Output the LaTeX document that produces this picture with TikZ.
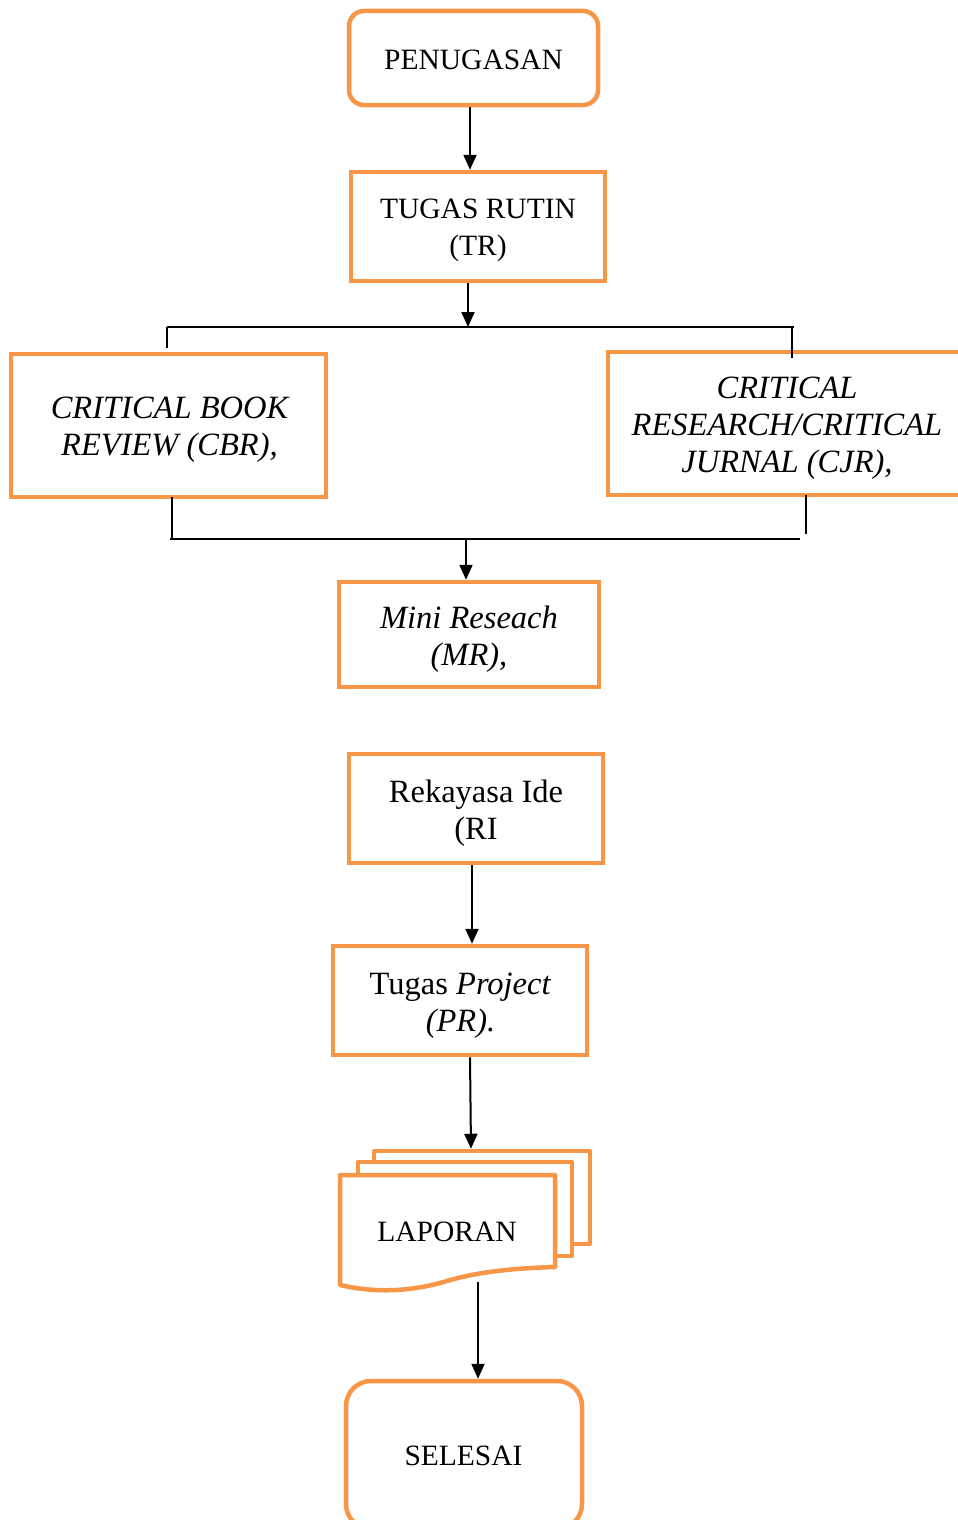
\documentclass[tikz,border=0pt]{standalone}
\usepackage{fontspec}
\setmainfont{Liberation Serif}
\usetikzlibrary{arrows.meta,calc}
\definecolor{org}{HTML}{F79646}
\begin{document}
\begin{tikzpicture}[x=1pt,y=-1pt,
  box/.style={draw=org, line width=4.5pt, fill=white, inner sep=0pt},
  rbox/.style={box, rounded corners=15pt},
  txt/.style={align=center, inner sep=0pt, font=\fontsize{29.5}{37}\selectfont},
  btxt/.style={align=center, inner sep=0pt, font=\fontsize{32.5}{37}\selectfont},
  sheet/.style={draw=org, line width=4.5pt, fill=white, line join=round},
  conn/.style={line width=2pt},
  arr/.style={conn, -{Triangle[length=15pt,width=13pt]}}]
\useasboundingbox (0,0) rectangle (958,1520);
\clip (0,0) rectangle (958,1520);

% boxes
\node[rbox, minimum width=249pt, minimum height=94pt] (pen) at (473.5,58) {};
\node[txt] (pent) at (473.5,60) {PENUGASAN};
\node[box, minimum width=254pt, minimum height=109pt] (tr) at (478,226.5) {};
\node[txt] (trt) at (478,230.5) {TUGAS RUTIN\\(TR)};
\node[box, minimum width=315pt, minimum height=143pt] (cbr) at (168.5,425.5) {};
\node[btxt] (cbrt) at (169.5,430) {\itshape CRITICAL BOOK\\\itshape REVIEW (CBR),};
\node[box, minimum width=358pt, minimum height=143pt] (cjr) at (787,423.5) {};
\node[btxt] (cjrt) at (787,428.5) {\itshape CRITICAL\\\itshape RESEARCH/CRITICAL\\\itshape JURNAL (CJR),};
\node[box, minimum width=260pt, minimum height=105pt] (mr) at (469,634.5) {};
\node[btxt] (mrt) at (469,639.5) {\itshape Mini Reseach\\\itshape (MR),};
\node[box, minimum width=254pt, minimum height=109pt] (ri) at (476,808.5) {};
\node[btxt] (rit) at (476,813.5) {Rekayasa Ide\\(RI};
\node[box, minimum width=254pt, minimum height=109pt] (pr) at (460,1000.5) {};
\node[btxt] (prt) at (460.5,1005.5) {Tugas \textit{Project}\\\textit{(PR).}};

% multi-document
\node[sheet, minimum width=216pt, minimum height=93pt, inner sep=0pt] (lap3) at (482,1197.5) {};
\node[sheet, minimum width=214pt, minimum height=94pt, inner sep=0pt] (lap2) at (465,1209) {};
\draw[sheet] (340,1175) -- (555,1175) -- (555,1267)
  .. controls (520,1268) and (480,1271) .. (447,1281)
  .. controls (410,1292) and (375,1293) .. (340,1285) -- cycle;
\node[txt] (lap) at (447,1232) {LAPORAN};
\coordinate (lapb) at (478,1282);

\node[box, rounded corners=25pt, minimum width=236pt, minimum height=148pt] (sel) at (464,1455) {};
\node[txt] (selt) at (463.5,1456) {SELESAI};

% junction coordinates
\coordinate (t1) at (468,327);
\coordinate (tl) at (167,327);
\coordinate (tr2) at (794,327);
\coordinate (tlb) at (167,348);
\coordinate (trb) at (792,358);
\coordinate (trtop) at (792,327);
\coordinate (bl) at (170,539);
\coordinate (br) at (800,539);
\coordinate (b1) at (466,539);
\coordinate (blt) at (172,497);
\coordinate (blb) at (172,539);
\coordinate (brt) at (806,495);
\coordinate (brb) at (806,534);

% connectors
\draw[arr] ([xshift=-3.5pt]pen.south) -- ([xshift=-8pt]tr.north);
\draw[arr] ([xshift=-10pt]tr.south) -- (t1);
\draw[conn] (tl) -- (tr2);
\draw[conn] (tl) -- (tlb);
\draw[conn] (trtop) -- (trb);
\draw[conn] (blt) -- (blb);
\draw[conn] (brt) -- (brb);
\draw[conn] (bl) -- (br);
\draw[arr] (b1) -- ([xshift=-3pt]mr.north);
\draw[arr] ([xshift=-4pt]ri.south) -- ([xshift=12pt]pr.north);
\draw[arr] ([xshift=10pt]pr.south) -- ([xshift=-11pt]lap3.north);
\draw[arr] (lapb) -- ([xshift=14pt]sel.north);
\end{tikzpicture}
\end{document}
